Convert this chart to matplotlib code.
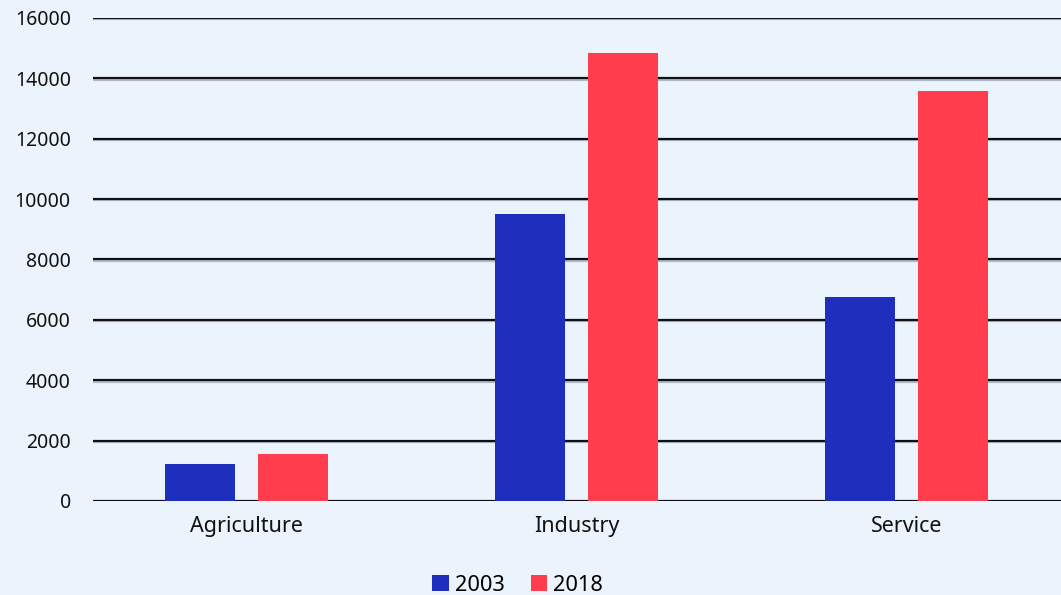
import matplotlib.pyplot as plt
import matplotlib.patheffects as pe
import numpy as np

plt.rcParams['font.family'] = ['Noto Sans', 'DejaVu Sans']

sectors = ["Agriculture", "Industry", "Service"]
years = ["2003", "2018"]
values_2003 = [1240, 9510, 6770]
values_2018 = [1570, 14830, 13580]
yticks = [0, 2000, 4000, 6000, 8000, 10000, 12000, 14000, 16000]

color_2003, color_2018 = "#1F2FBD", "#FF3D4C"
color_back = "#EBF4FD"

fig = plt.figure(figsize = (10.61, 5.95), dpi = 100, facecolor = color_back)
ax = fig.add_axes([0.0877, 0.158, 0.9123, 0.812], facecolor = color_back)

x = np.arange(len(sectors))
width, offset = 0.212, 0.141
ax.bar(x - offset, values_2003, width, color = color_2003, label = years[0], zorder = 3)
ax.bar(x + offset, values_2018, width, color = color_2018, label = years[1], zorder = 3)

ax.set_xlim(-0.465, 2.468)
ax.set_ylim(0, 16000)
ax.set_yticks(yticks)
ax.set_yticklabels([str(t) for t in yticks])
ax.set_xticks(x)
ax.set_xticklabels(sectors)
ax.tick_params(axis = "y", length = 0, pad = 16, labelsize = 14, colors = "#111111")
ax.tick_params(axis = "x", length = 0, pad = 11, labelsize = 15.5, colors = "#111111")
# dark gridlines with a faint grey edge underneath
ax.yaxis.grid(True, color = "#111111", lw = 1.6, zorder = 0,
              path_effects = [pe.SimpleLineShadow(offset = (0, -1), shadow_color = "#8a96a3", alpha = 0.6), pe.Normal()])
for s in ax.spines.values():
    s.set_visible(False)

fig.legend(loc = "center", bbox_to_anchor = (0.488, 0.016), ncol = 2, frameon = False,
           fontsize = 15.7, handlelength = 0.75, handleheight = 0.75, handletextpad = 0.28,
           columnspacing = 1.2, borderpad = 0)

fig.savefig("out.png", dpi = 100, facecolor = color_back)
